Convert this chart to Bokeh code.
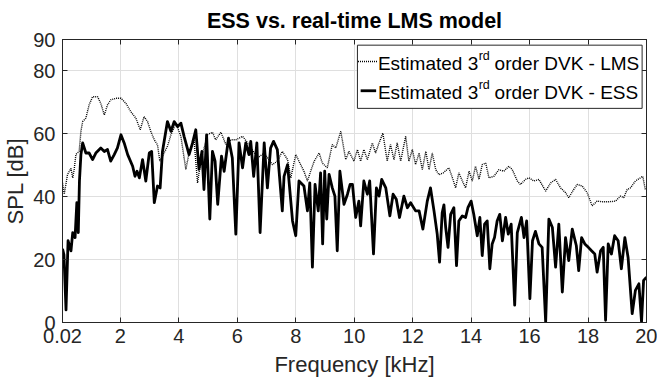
from bokeh.plotting import figure
from bokeh.models import FixedTicker, LinearAxis, BoxAnnotation, Label, Range1d
from bokeh.embed import file_html
from bokeh.resources import INLINE

# ---------------- data ----------------
lms_freq = [0.02, 0.08, 0.19, 0.31, 0.37, 0.42, 0.48, 0.59, 0.65, 0.71, 0.82, 0.93, 1.05, 1.22,
            1.33, 1.45, 1.56, 1.67, 1.85, 2.02, 2.19, 2.36, 2.53, 2.68, 2.81, 2.93, 3.04, 3.16,
            3.27, 3.35, 3.61, 3.73, 3.90, 4.07, 4.24, 4.35, 4.52, 4.64, 4.75, 4.98, 5.15, 5.26,
            5.44, 5.61, 5.78, 5.95, 6.18, 6.40, 6.69, 6.92, 7.20, 7.37, 7.54, 7.72, 7.83, 8.00,
            8.11, 8.28, 8.40, 8.51, 8.63, 8.80, 8.91, 9.08, 9.25, 9.37, 9.54, 9.71, 9.82, 9.99,
            10.11, 10.22, 10.33, 10.45, 10.62, 10.73, 10.85, 10.98, 11.13, 11.24, 11.36, 11.47,
            11.59, 11.76, 11.87, 11.99, 12.10, 12.22, 12.33, 12.45, 12.56, 12.67, 12.79, 12.90,
            13.05, 13.24, 13.36, 13.47, 13.58, 13.70, 13.81, 13.93, 14.04, 14.15, 14.27, 14.38,
            14.50, 14.61, 14.78, 14.95, 15.12, 15.29, 15.41, 15.58, 15.69, 15.86, 15.98, 16.15,
            16.32, 16.55, 16.72, 16.89, 17.06, 17.23, 17.34, 17.51, 17.63, 17.80, 17.97, 18.14,
            18.31, 18.48, 18.71, 18.94, 19.11, 19.22, 19.34, 19.45, 19.62, 19.79, 19.87, 19.96]
lms_spl = [44.4, 40.8, 47.0, 49.0, 46.0, 48.7, 53.5, 54.4, 60.8, 63.9, 65.0, 69.2, 71.8, 71.8,
           69.7, 66.0, 69.2, 70.8, 71.3, 71.3, 69.7, 67.0, 65.0, 61.3, 65.5, 63.9, 60.8, 58.1,
           56.5, 51.3, 56.0, 59.7, 63.4, 59.2, 48.7, 53.9, 58.1, 44.4, 51.3, 59.7, 60.5, 58.1,
           60.5, 56.6, 58.1, 58.1, 59.2, 56.6, 52.3, 53.9, 50.2, 51.3, 54.4, 51.8, 46.0, 53.4,
           51.3, 48.1, 45.0, 48.1, 51.3, 53.9, 50.7, 49.2, 56.6, 55.5, 60.8, 51.8, 54.4, 51.3,
           55.0, 51.3, 55.0, 51.8, 57.1, 53.9, 57.1, 60.2, 51.3, 56.6, 51.8, 57.1,
           51.3, 59.2, 51.3, 55.0, 50.2, 53.9, 48.6, 54.4, 48.6, 53.9, 48.6, 47.0,
           47.6, 49.2, 46.0, 42.8, 47.6, 45.0, 42.8, 48.1, 45.0, 49.7, 45.5, 50.2,
           50.7, 46.0, 46.5, 48.6, 48.1, 49.7, 48.6, 45.0, 43.9, 45.5, 46.0, 45.0,
           45.5, 41.8, 44.4, 45.5, 42.8, 41.3, 39.7, 42.3, 43.9, 43.4, 41.3, 37.1,
           38.6, 38.4, 38.4, 38.6, 40.2, 39.7, 42.3, 42.8, 45.0, 46.0, 46.5, 42.3]

ess_freq = [0.02, 0.07, 0.14, 0.21, 0.31, 0.37, 0.45, 0.51, 0.56, 0.60, 0.65, 0.71, 0.82, 0.93,
            1.05, 1.16, 1.33, 1.45, 1.56, 1.67, 1.79, 1.90, 2.02, 2.13, 2.25, 2.42, 2.50, 2.57,
            2.65, 2.76, 2.87, 2.99, 3.07, 3.16, 3.27, 3.36, 3.44, 3.61, 3.73, 3.84, 3.96, 4.07,
            4.18, 4.35, 4.47, 4.58, 4.69, 4.79, 4.86, 4.95, 5.06, 5.15, 5.24, 5.33, 5.46, 5.55,
            5.70, 5.83, 5.95, 6.06, 6.18, 6.29, 6.40, 6.46, 6.56, 6.67, 6.78, 6.92, 7.03, 7.14,
            7.24, 7.37, 7.54, 7.60, 7.72, 7.89, 8.00, 8.11, 8.28, 8.40, 8.48, 8.57, 8.66, 8.77,
            8.85, 8.92, 8.99, 9.06, 9.14, 9.25, 9.34, 9.42, 9.51, 9.65, 9.77, 9.86, 9.94, 10.05,
            10.16, 10.22, 10.33, 10.45, 10.53, 10.66, 10.76, 10.85, 10.94, 11.08, 11.22, 11.33,
            11.44, 11.55, 11.70, 11.82, 11.93, 12.10, 12.22, 12.35, 12.50, 12.61, 12.73, 12.84,
            12.92, 13.01, 13.07, 13.13, 13.21, 13.30, 13.41, 13.50, 13.58, 13.70, 13.81, 13.89,
            14.00, 14.09, 14.21, 14.30, 14.38, 14.46, 14.55, 14.64, 14.72, 14.80, 14.89, 14.98,
            15.07, 15.18, 15.27, 15.37, 15.49, 15.58, 15.72, 15.81, 15.90, 16.01, 16.10, 16.20,
            16.32, 16.43, 16.55, 16.66, 16.78, 16.89, 17.00, 17.12, 17.23, 17.34, 17.46, 17.60,
            17.68, 17.78, 17.89, 18.01, 18.12, 18.23, 18.31, 18.43, 18.52, 18.60, 18.69, 18.80,
            18.91, 19.03, 19.14, 19.26, 19.37, 19.51, 19.62, 19.74, 19.83, 19.90, 20.00]
ess_spl = [23.4, 21.5, 4.0, 26.0, 22.8, 28.6, 27.0, 38.1, 28.6, 45.0, 53.4, 57.1, 53.9, 53.9,
           51.8, 53.9, 55.5, 54.4, 55.0, 51.3, 53.4, 55.5, 59.7, 57.1, 53.4, 49.7, 46.5, 48.1,
           46.0, 51.8, 45.0, 53.9, 54.4, 38.1, 43.4, 42.8, 54.4, 63.9, 60.8, 63.9, 62.3, 63.4,
           59.2, 53.4, 57.1, 61.3, 48.7, 54.4, 42.3, 59.7, 32.9, 54.4, 51.3, 37.6, 52.9, 48.1,
           58.6, 52.3, 28.1, 57.1, 49.2, 57.1, 53.4, 57.6, 46.5, 57.1, 28.6, 57.1, 42.8, 55.5,
           57.6, 55.0, 35.5, 46.5, 50.2, 32.3, 27.6, 45.0, 43.4, 35.5, 44.4, 17.6, 43.9, 35.5,
           47.6, 25.0, 48.1, 32.9, 47.1, 42.8, 40.2, 22.8, 48.1, 37.6, 40.8, 43.9, 43.9, 33.4,
           38.6, 30.7, 45.0, 40.8, 45.0, 21.8, 42.8, 40.2, 45.5, 42.8, 33.9, 40.8,
           39.2, 33.4, 40.2, 36.5, 38.1, 35.5, 35.5, 29.7, 38.6, 42.8, 35.5, 28.1,
           19.2, 34.9, 37.4, 30.2, 23.9, 34.4, 36.5, 18.1, 32.3, 33.9, 33.4, 36.5,
           38.6, 34.4, 27.6, 33.4, 21.3, 31.3, 32.3, 17.1, 25.0, 27.0, 32.3, 34.4,
           26.0, 33.4, 28.1, 31.3, 5.5, 28.6, 33.4, 27.0, 32.3, 7.6, 26.0, 29.0,
           25.0, 23.9, 0.2, 32.9, 30.2, 17.6, 31.3, 9.7, 27.0, 19.7, 29.7, 24.4,
           16.5, 27.0, 25.0, 23.9, 22.8, 21.8, 16.0, 22.8, 23.9, 0.7, 25.0, 21.8,
           27.6, 26.0, 17.1, 27.0, 20.7, 2.8, 10.2, 12.3, 0.2, 13.4, 14.4]

x_ticks = [0.02, 2, 4, 6, 8, 10, 12, 14, 16, 18, 20]
x_tick_labels = ["0.02", "2", "4", "6", "8", "10", "12", "14", "16", "18", "20"]
y_ticks = [0, 20, 40, 60, 80, 90]
y_tick_labels = ["0", "20", "40", "60", "80", "90"]

title_text = "ESS vs. real-time LMS model"
x_label = "Frequency [kHz]"
y_label = "SPL [dB]"
legend_main = ["Estimated 3", "Estimated 3"]
legend_sup = ["rd", "rd"]
legend_tail = ["order DVK - LMS", "order DVK - ESS"]

# ---------------- style ----------------
FONT = "Liberation Sans"
INK = "#262626"
GRID = "#dfdfdf"
TICK_PX = 20
LAB_PX = 22
LEG_PX = 19
SUP_PX = 12.5

p = figure(width=657, height=383, x_range=Range1d(0.02, 20), y_range=Range1d(0, 90),
           output_backend="svg", toolbar_location=None,
           min_border_left=62, min_border_right=11, min_border_top=38, min_border_bottom=61,
           background_fill_color="white", border_fill_color="white")

p.title.text = title_text
p.title.text_font = FONT
p.title.text_font_size = "21.5px"
p.title.text_font_style = "bold"
p.title.text_color = "black"
p.title.align = "center"
p.title.standoff = 13

p.outline_line_color = INK
p.outline_line_width = 1
p.outline_line_alpha = 1

for ax, ticks, labels in ((p.xaxis[0], x_ticks, x_tick_labels), (p.yaxis[0], y_ticks, y_tick_labels)):
    ax.ticker = FixedTicker(ticks=ticks)
    ax.major_label_overrides = {float(t): s for t, s in zip(ticks, labels)}
    ax.major_label_text_font = FONT
    ax.major_label_text_font_size = f"{TICK_PX}px"
    ax.major_label_text_color = INK
    ax.axis_label_text_font = FONT
    ax.axis_label_text_font_size = f"{LAB_PX}px"
    ax.axis_label_text_font_style = "normal"
    ax.axis_label_text_color = INK
    ax.axis_line_color = INK
    ax.major_tick_line_color = INK
    ax.major_tick_in = 5
    ax.major_tick_out = 0
    ax.minor_tick_line_color = None

p.xaxis.axis_label = x_label
p.yaxis.axis_label = y_label
p.xaxis.major_label_standoff = 6
p.yaxis.major_label_standoff = 7
p.xaxis.axis_label_standoff = 6
p.yaxis.axis_label_standoff = 2

# box ticks on the top and right edges (no labels drawn)
for loc, ticks in (("above", x_ticks), ("right", y_ticks)):
    a = LinearAxis(ticker=FixedTicker(ticks=ticks), major_label_text_font_size="1px",
                   major_label_text_color=None, major_label_standoff=0,
                   major_tick_in=5, major_tick_out=0,
                   minor_tick_line_color=None, axis_line_color=INK, major_tick_line_color=INK)
    p.add_layout(a, loc)

p.xgrid.grid_line_color = GRID
p.ygrid.grid_line_color = GRID
p.xgrid.ticker = FixedTicker(ticks=x_ticks)
p.ygrid.ticker = FixedTicker(ticks=y_ticks)

# ---------------- data lines ----------------
p.line(lms_freq, lms_spl, line_color="black", line_width=1.4, line_dash="1 1")
p.line(ess_freq, ess_spl, line_color="black", line_width=2.8, line_join="round")

# ---------------- legend (box + samples + texts with superscript) ----------------
leg_left, leg_right, leg_bottom, leg_top = 10.11, 19.85, 68.1, 88.2
row_y = [82.5, 73.2]
text_x = 10.81
p.add_layout(BoxAnnotation(left=leg_left, right=leg_right, bottom=leg_bottom, top=leg_top,
                           fill_color="white", fill_alpha=1.0, line_color=INK, line_width=1,
                           line_alpha=1.0))
p.line([10.13, 10.79], [row_y[0] + 0.5, row_y[0] + 0.5], line_color="black", line_width=1.4,
       line_dash="1 1", level="overlay")
p.line([10.22, 10.75], [row_y[1] + 0.5, row_y[1] + 0.5], line_color="black", line_width=2.8,
       level="overlay")

# advance widths (Arial / Liberation Sans metrics, em units)
W = {"E": .667, "s": .5, "t": .278, "i": .222, "m": .833, "a": .556, "e": .556, "d": .556,
     " ": .278, "3": .556, "r": .333}
def width(txt, size):
    return sum(W.get(c, .556) for c in txt) * size

for k in range(2):
    w_main = width(legend_main[k], LEG_PX)
    w_sup = width(legend_sup[k], SUP_PX)
    w_space = width(" ", LEG_PX)
    for txt, size, dx, dy in ((legend_main[k], LEG_PX, 0, 0),
                              (legend_sup[k], SUP_PX, w_main + 0.5, 7),
                              (legend_tail[k], LEG_PX, w_main + w_sup + w_space, 0)):
        p.add_layout(Label(x=text_x, y=row_y[k], x_offset=dx, y_offset=dy, text=txt,
                           text_font=FONT, text_font_size=f"{size}px", text_color="black",
                           text_baseline="middle", text_align="left"))

open("out.html", "w").write(file_html(p, INLINE))
